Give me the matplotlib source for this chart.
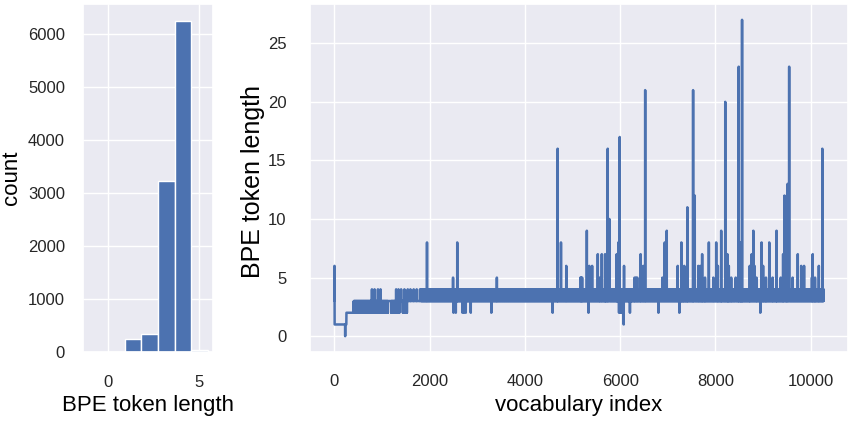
import numpy as np
import matplotlib
matplotlib.use("Agg")
import matplotlib.pyplot as plt
import seaborn as sns

# histogram of token lengths (bin edges / counts)
hist_edges = [0, 0.92, 1.83, 2.75, 3.67, 4.58, 5.5]
hist_counts = [1, 249, 342, 3240, 6262, 40]

# vocabulary series: runs of a flat band (start, stop, low, high) plus single spikes
n_vocab = 10270
band_runs = [
    (0, 1, 3, 3),
    (1, 250, 1, 1),
    (250, 403, 2, 2),
    (403, 877, 2, 3),
    (877, 913, 3, 3),
    (913, 1122, 2, 3),
    (1122, 1191, 3, 3),
    (1191, 1365, 2, 3),
    (1365, 1435, 3, 3),
    (1435, 1525, 2, 3),
    (1525, 1817, 3, 3),
    (1817, 10270, 3, 4),
]
spike_idx = [1, 225,
             787, 842, 913, 967, 1295, 1344, 1400, 1469, 1539, 1595, 1664, 1727, 1796,
             1943, 2490, 2500, 2548, 2578, 2688, 2720, 2757, 2862, 3294, 3410,
             4581, 4686, 4756, 4867, 5165, 5180, 5200, 5299, 5334, 5350, 5410,
             5529, 5564, 5613, 5682, 5700, 5738, 5760, 5773, 5926, 5961, 5975, 5989,
             6005, 6030, 6073, 6080, 6204, 6302, 6330, 6357, 6428, 6483, 6524,
             6803, 6887, 6935, 6977, 7207, 7242, 7284, 7320, 7345, 7380, 7410,
             7530, 7565, 7639, 7681, 7720, 7780, 7861, 7955, 8015, 8050, 8120,
             8205, 8250, 8280, 8330, 8425, 8488, 8530, 8558, 8720, 8760, 8795,
             8820, 8860, 8941, 8968, 9000, 9060, 9129, 9200, 9282, 9370, 9420,
             9449, 9490, 9515, 9547, 9620, 9728, 9800, 9860, 10025, 10042, 10090,
             10170, 10243]
spike_val = [6, 0,
             4, 4, 4, 4, 4, 4, 4, 4, 4, 4, 4, 4, 4,
             8, 5, 2, 2, 8, 2, 2, 2, 2, 2, 5,
             2, 16, 8, 6, 5, 5, 5, 9, 2, 6, 6,
             7, 5, 7, 7, 5, 16, 7, 10, 7, 8, 2, 17,
             2, 2, 1, 6, 2, 5, 5, 5, 7, 6, 21,
             2, 5, 8, 9, 6, 2, 8, 5, 6, 5, 11,
             21, 12, 6, 6, 7, 5, 8, 5, 8, 6, 9,
             20, 7, 6, 5, 5, 23, 8, 27, 6, 7, 9,
             6, 5, 2, 8, 6, 5, 8, 5, 9, 5, 7,
             12, 9, 13, 23, 5, 7, 6, 6, 5, 7, 5,
             6, 16]

lengths = np.zeros(n_vocab)
for start, stop, lo, hi in band_runs:
    lengths[start:stop] = np.resize([lo, hi], stop - start)
lengths[spike_idx] = spike_val

sns.set_theme(style="darkgrid")
plt.rcParams["font.family"] = ["Liberation Sans", "DejaVu Sans"]
blue = sns.color_palette("deep")[0]

fig = plt.figure(figsize=(8.5, 4.22), dpi=100)
ax1 = fig.add_axes([83 / 850, 70 / 422, 130 / 850, 348 / 422])
ax2 = fig.add_axes([310 / 850, 70 / 422, 538 / 850, 348 / 422])

# left: histogram
ax1.bar(hist_edges[:-1], hist_counts, width=np.diff(hist_edges), align="edge",
        color=blue, edgecolor="white", linewidth=1)
ax1.set_xlim(-1.37, 5.77)
ax1.set_xticks([0, 5])
ax1.set_yticks(range(0, 7000, 1000))
ax1.set_xlabel("BPE token length", fontsize=16, color="black")
ax1.set_ylabel("count", fontsize=16, color="black")
ax1.yaxis.set_label_coords(-0.47, 0.5)
ax1.tick_params(axis="y", labelsize=12, pad=7)
ax1.tick_params(axis="x", labelsize=12, pad=10.5)

# right: token length per vocabulary index
ax2.plot(np.arange(n_vocab), lengths, color=blue, linewidth=1.8)
ax2.set_xticks(range(0, 12000, 2000))
ax2.set_yticks(range(0, 30, 5))
ax2.set_xlabel("vocabulary index", fontsize=16, color="black")
ax2.set_ylabel("BPE token length", fontsize=18, color="black")
ax2.yaxis.set_label_coords(-0.083, 0.49)
ax2.tick_params(axis="y", labelsize=12, pad=11)
ax2.tick_params(axis="x", labelsize=12, pad=10)

fig.savefig("out.png", dpi=100)
